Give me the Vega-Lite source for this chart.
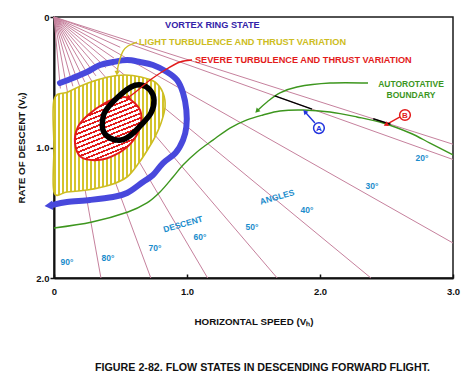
{
"$schema": "https://vega.github.io/schema/vega-lite/v6.json",
"width": 399, "height": 261,
"autosize": {"type": "none"},
"padding": {"left": 54, "top": 17, "right": 20, "bottom": 110},
"background": "white",
"config": {"font": "Liberation Sans", "view": {"stroke": "#1a1a1a", "strokeWidth": 1.5}},
"title": {"text": "FIGURE 2-82. FLOW STATES IN DESCENDING FORWARD FLIGHT.", "orient": "bottom", "frame": "group", "anchor": "middle", "offset": 37, "baseline": "top", "fontSize": 10.7, "fontWeight": "bold", "color": "#111", "dx": 9},
"datasets": {
"rays": [
{"x":0,"y":0,"x2":3,"y2":0.975},{"x":0,"y":0,"x2":3,"y2":1.092},{"x":0,"y":0,"x2":3,"y2":1.732},
{"x":0,"y":0,"x2":2.383,"y2":2},{"x":0,"y":0,"x2":1.678,"y2":2},{"x":0,"y":0,"x2":1.155,"y2":2},
{"x":0,"y":0,"x2":0.728,"y2":2},{"x":0,"y":0,"x2":0.353,"y2":2},
{"x":0,"y":0,"x2":0.498,"y2":0.232},{"x":0,"y":0,"x2":0.451,"y2":0.315},{"x":0,"y":0,"x2":0.389,"y2":0.389},
{"x":0,"y":0,"x2":0.315,"y2":0.451},{"x":0,"y":0,"x2":0.232,"y2":0.498},{"x":0,"y":0,"x2":0.142,"y2":0.531},
{"x":0,"y":0,"x2":0.048,"y2":0.548}],
"green": [
{"i":0,"x":0,"y":1.617},{"i":1,"x":0.286,"y":1.571},{"i":2,"x":0.556,"y":1.494},{"i":3,"x":0.699,"y":1.425},
{"i":4,"x":0.797,"y":1.341},{"i":5,"x":0.895,"y":1.226},{"i":6,"x":0.970,"y":1.134},{"i":7,"x":1.075,"y":1.034},
{"i":8,"x":1.195,"y":0.943},{"i":9,"x":1.323,"y":0.851},{"i":10,"x":1.451,"y":0.789},{"i":11,"x":1.571,"y":0.751},
{"i":12,"x":1.699,"y":0.720},{"i":13,"x":1.872,"y":0.713},{"i":14,"x":2.075,"y":0.728},{"i":15,"x":2.278,"y":0.766},
{"i":16,"x":2.474,"y":0.812},{"i":17,"x":2.677,"y":0.889},{"i":18,"x":2.827,"y":0.966},{"i":19,"x":3.0,"y":1.057}],
"light": [
{"i":0,"x":0,"y":0.636},{"i":1,"x":0.105,"y":0.575},{"i":2,"x":0.256,"y":0.506},{"i":3,"x":0.406,"y":0.460},
{"i":4,"x":0.534,"y":0.444},{"i":5,"x":0.654,"y":0.460},{"i":6,"x":0.759,"y":0.498},{"i":7,"x":0.820,"y":0.582},
{"i":8,"x":0.835,"y":0.690},{"i":9,"x":0.805,"y":0.812},{"i":10,"x":0.759,"y":0.920},{"i":11,"x":0.705,"y":1.015},
{"i":12,"x":0.640,"y":1.115},{"i":13,"x":0.549,"y":1.226},{"i":14,"x":0.421,"y":1.287},{"i":15,"x":0.248,"y":1.326},
{"i":16,"x":0.098,"y":1.341},{"i":17,"x":0,"y":1.341},{"i":18,"x":0,"y":1.0}],
"severe": [
{"i":0,"x":0.556,"y":0.621},{"i":1,"x":0.647,"y":0.713},{"i":2,"x":0.647,"y":0.843},{"i":3,"x":0.579,"y":0.966},
{"i":4,"x":0.459,"y":1.057},{"i":5,"x":0.331,"y":1.096},{"i":6,"x":0.203,"y":1.073},{"i":7,"x":0.158,"y":0.966},
{"i":8,"x":0.180,"y":0.843},{"i":9,"x":0.256,"y":0.751},{"i":10,"x":0.383,"y":0.659},{"i":11,"x":0.481,"y":0.621}],
"stadium": [
{"i":0,"x":0.391,"y":0.713},{"i":1,"x":0.481,"y":0.613},{"i":2,"x":0.579,"y":0.536},{"i":3,"x":0.654,"y":0.521},
{"i":4,"x":0.722,"y":0.559},{"i":5,"x":0.752,"y":0.636},{"i":6,"x":0.729,"y":0.736},{"i":7,"x":0.654,"y":0.828},
{"i":8,"x":0.579,"y":0.904},{"i":9,"x":0.504,"y":0.943},{"i":10,"x":0.421,"y":0.927},{"i":11,"x":0.368,"y":0.866},
{"i":12,"x":0.368,"y":0.774}],
"ring": [
{"i":0,"x":0.045,"y":0.506},{"i":1,"x":0.143,"y":0.467},{"i":2,"x":0.248,"y":0.421},{"i":3,"x":0.346,"y":0.368},
{"i":4,"x":0.444,"y":0.345},{"i":5,"x":0.549,"y":0.330},{"i":6,"x":0.647,"y":0.345},{"i":7,"x":0.744,"y":0.368},
{"i":8,"x":0.850,"y":0.421},{"i":9,"x":0.925,"y":0.483},{"i":10,"x":0.970,"y":0.582},{"i":11,"x":0.995,"y":0.713},
{"i":12,"x":0.995,"y":0.843},{"i":13,"x":0.970,"y":0.943},{"i":14,"x":0.915,"y":1.040},{"i":15,"x":0.820,"y":1.119},
{"i":16,"x":0.744,"y":1.211},{"i":17,"x":0.669,"y":1.264},{"i":18,"x":0.549,"y":1.349},{"i":19,"x":0.444,"y":1.379},
{"i":20,"x":0.271,"y":1.402},{"i":21,"x":0.098,"y":1.418},{"i":22,"x":0.0,"y":1.438}],
"ringhead": [{"x":-0.03,"y":1.445,"dir":265}],
"leaders": [
{"g":"light","s":"l","i":0,"x":0.624,"y":0.192},{"g":"light","s":"l","i":1,"x":0.556,"y":0.222},{"g":"light","s":"l","i":2,"x":0.519,"y":0.261},
{"g":"light","s":"l","i":3,"x":0.496,"y":0.322},{"g":"light","s":"l","i":4,"x":0.481,"y":0.383},{"g":"light","s":"l","i":5,"x":0.474,"y":0.421},
{"g":"severe","s":"r","i":0,"x":1.038,"y":0.329},{"g":"severe","s":"r","i":1,"x":0.947,"y":0.345},{"g":"severe","s":"r","i":2,"x":0.835,"y":0.406},
{"g":"severe","s":"r","i":3,"x":0.722,"y":0.483},{"g":"severe","s":"r","i":4,"x":0.632,"y":0.559},{"g":"severe","s":"r","i":5,"x":0.564,"y":0.613},
{"g":"auto","s":"g","i":0,"x":2.361,"y":0.506},{"g":"auto","s":"g","i":1,"x":2.075,"y":0.506},{"g":"auto","s":"g","i":2,"x":1.827,"y":0.536},
{"g":"auto","s":"g","i":3,"x":1.699,"y":0.582},{"g":"auto","s":"g","i":4,"x":1.602,"y":0.651},{"g":"auto","s":"g","i":5,"x":1.534,"y":0.713},
{"g":"A","s":"a","i":0,"x":1.962,"y":0.812},{"g":"A","s":"a","i":1,"x":1.895,"y":0.736},
{"g":"B","s":"b","i":0,"x":2.602,"y":0.766},{"g":"B","s":"b","i":1,"x":2.504,"y":0.820},
{"g":"tangent","s":"t1","i":0,"x":1.66,"y":0.604},{"g":"tangent","s":"t1","i":1,"x":1.94,"y":0.706},
{"g":"tangent","s":"t2","i":0,"x":2.40,"y":0.78},{"g":"tangent","s":"t2","i":1,"x":2.53,"y":0.822}],
"heads": [
{"g":"light","x":0.474,"y":0.425,"dir":185},{"g":"severe","x":0.56,"y":0.617,"dir":235},
{"g":"auto","x":1.53,"y":0.717,"dir":225},{"g":"A","x":1.89,"y":0.73,"dir":318},{"g":"B","x":2.50,"y":0.822,"dir":242}],
"circles": [{"g":"A","t":"A","x":1.992,"y":0.851},{"g":"B","t":"B","x":2.639,"y":0.751}],
"leftlabels": [
{"t":"VORTEX RING STATE","g":"vortexlabel","x":0.835,"y":0.061},
{"t":"LIGHT TURBULENCE AND THRUST VARIATION","g":"light","x":0.639,"y":0.192},
{"t":"SEVERE TURBULENCE AND THRUST VARIATION","g":"severe","x":1.060,"y":0.330}],
"midlabels": [
{"t":"AUTOROTATIVE","g":"auto","x":2.684,"y":0.513},{"t":"BOUNDARY","g":"auto","x":2.684,"y":0.598},
{"t":"90°","g":"angle","x":0.098,"y":1.877},{"t":"80°","g":"angle","x":0.406,"y":1.847},
{"t":"70°","g":"angle","x":0.759,"y":1.770},{"t":"60°","g":"angle","x":1.098,"y":1.686},
{"t":"50°","g":"angle","x":1.489,"y":1.609},{"t":"40°","g":"angle","x":1.902,"y":1.479},
{"t":"30°","g":"angle","x":2.391,"y":1.295},{"t":"20°","g":"angle","x":2.767,"y":1.080}],
"rotlabels": [{"t":"DESCENT","g":"angle","x":0.970,"y":1.586},{"t":"ANGLES","g":"angle","x":1.677,"y":1.379}]
},
"encoding": {
"x": {"field": "x", "type": "quantitative", "scale": {"domain": [0, 3], "nice": false, "zero": false},
 "axis": {"values": [0, 1, 2, 3], "labelExpr": "datum.value == 0 ? '0' : format(datum.value, '.1f')", "title": "HORIZONTAL SPEED (Vₕ)", "grid": false, "tickSize": -4, "tickColor": "#111", "tickWidth": 1.5, "domainColor": "#111", "domainWidth": 2, "labelFontWeight": "bold", "labelFontSize": 9.5, "labelColor": "#111", "labelPadding": 12, "labelFlush": false, "titleFontSize": 9.8, "titleFontWeight": "bold", "titlePadding": 21, "titleColor": "#111"}},
"y": {"field": "y", "type": "quantitative", "scale": {"domain": [0, 2], "nice": false, "zero": false, "reverse": true},
 "axis": {"values": [0, 1, 2], "labelExpr": "datum.value == 0 ? '0' : format(datum.value, '.1f')", "title": "RATE OF DESCENT (Vᵥ)", "grid": false, "tickSize": 4, "tickColor": "#111", "tickWidth": 1.5, "domainColor": "#111", "domainWidth": 2, "labelFontWeight": "bold", "labelFontSize": 9.5, "labelColor": "#111", "labelPadding": 1, "labelFlush": false, "titleFontSize": 9.8, "titleFontWeight": "bold", "titlePadding": 9, "titleColor": "#111"}}
},
"layer": [
{"data": {"name": "rays"}, "mark": {"type": "rule", "color": "#c6819d", "strokeWidth": 1}, "encoding": {"x2": {"field": "x2"}, "y2": {"field": "y2"}}},
{"data": {"name": "green"}, "mark": {"type": "line", "color": "#3d961e", "strokeWidth": 1.4, "interpolate": "cardinal"}, "encoding": {"order": {"field": "i", "type": "quantitative"}}},
{"data": {"name": "light"}, "mark": {"type": "line", "interpolate": "cardinal-closed", "stroke": "#cdbd22", "strokeWidth": 1.6,
 "fill": {"gradient": "linear", "x1": 0, "y1": 0, "x2": 1, "y2": 0, "stops": [
 {"offset":0,"color":"#ffffff"},
 {"offset":0.0119,"color":"#ffffff"},{"offset":0.0119,"color":"#d4c42c"},{"offset":0.0239,"color":"#d4c42c"},{"offset":0.0239,"color":"#ffffff"},
 {"offset":0.0476,"color":"#ffffff"},{"offset":0.0476,"color":"#d4c42c"},{"offset":0.0596,"color":"#d4c42c"},{"offset":0.0596,"color":"#ffffff"},
 {"offset":0.0833,"color":"#ffffff"},{"offset":0.0833,"color":"#d4c42c"},{"offset":0.0953,"color":"#d4c42c"},{"offset":0.0953,"color":"#ffffff"},
 {"offset":0.1190,"color":"#ffffff"},{"offset":0.1190,"color":"#d4c42c"},{"offset":0.1310,"color":"#d4c42c"},{"offset":0.1310,"color":"#ffffff"},
 {"offset":0.1547,"color":"#ffffff"},{"offset":0.1547,"color":"#d4c42c"},{"offset":0.1667,"color":"#d4c42c"},{"offset":0.1667,"color":"#ffffff"},
 {"offset":0.1904,"color":"#ffffff"},{"offset":0.1904,"color":"#d4c42c"},{"offset":0.2024,"color":"#d4c42c"},{"offset":0.2024,"color":"#ffffff"},
 {"offset":0.2262,"color":"#ffffff"},{"offset":0.2262,"color":"#d4c42c"},{"offset":0.2382,"color":"#d4c42c"},{"offset":0.2382,"color":"#ffffff"},
 {"offset":0.2619,"color":"#ffffff"},{"offset":0.2619,"color":"#d4c42c"},{"offset":0.2739,"color":"#d4c42c"},{"offset":0.2739,"color":"#ffffff"},
 {"offset":0.2976,"color":"#ffffff"},{"offset":0.2976,"color":"#d4c42c"},{"offset":0.3096,"color":"#d4c42c"},{"offset":0.3096,"color":"#ffffff"},
 {"offset":0.3333,"color":"#ffffff"},{"offset":0.3333,"color":"#d4c42c"},{"offset":0.3453,"color":"#d4c42c"},{"offset":0.3453,"color":"#ffffff"},
 {"offset":0.3690,"color":"#ffffff"},{"offset":0.3690,"color":"#d4c42c"},{"offset":0.3810,"color":"#d4c42c"},{"offset":0.3810,"color":"#ffffff"},
 {"offset":0.4047,"color":"#ffffff"},{"offset":0.4047,"color":"#d4c42c"},{"offset":0.4167,"color":"#d4c42c"},{"offset":0.4167,"color":"#ffffff"},
 {"offset":0.4404,"color":"#ffffff"},{"offset":0.4404,"color":"#d4c42c"},{"offset":0.4524,"color":"#d4c42c"},{"offset":0.4524,"color":"#ffffff"},
 {"offset":0.4761,"color":"#ffffff"},{"offset":0.4761,"color":"#d4c42c"},{"offset":0.4881,"color":"#d4c42c"},{"offset":0.4881,"color":"#ffffff"},
 {"offset":0.5119,"color":"#ffffff"},{"offset":0.5119,"color":"#d4c42c"},{"offset":0.5239,"color":"#d4c42c"},{"offset":0.5239,"color":"#ffffff"},
 {"offset":0.5476,"color":"#ffffff"},{"offset":0.5476,"color":"#d4c42c"},{"offset":0.5596,"color":"#d4c42c"},{"offset":0.5596,"color":"#ffffff"},
 {"offset":0.5833,"color":"#ffffff"},{"offset":0.5833,"color":"#d4c42c"},{"offset":0.5953,"color":"#d4c42c"},{"offset":0.5953,"color":"#ffffff"},
 {"offset":0.6190,"color":"#ffffff"},{"offset":0.6190,"color":"#d4c42c"},{"offset":0.6310,"color":"#d4c42c"},{"offset":0.6310,"color":"#ffffff"},
 {"offset":0.6547,"color":"#ffffff"},{"offset":0.6547,"color":"#d4c42c"},{"offset":0.6667,"color":"#d4c42c"},{"offset":0.6667,"color":"#ffffff"},
 {"offset":0.6904,"color":"#ffffff"},{"offset":0.6904,"color":"#d4c42c"},{"offset":0.7024,"color":"#d4c42c"},{"offset":0.7024,"color":"#ffffff"},
 {"offset":0.7261,"color":"#ffffff"},{"offset":0.7261,"color":"#d4c42c"},{"offset":0.7381,"color":"#d4c42c"},{"offset":0.7381,"color":"#ffffff"},
 {"offset":0.7619,"color":"#ffffff"},{"offset":0.7619,"color":"#d4c42c"},{"offset":0.7739,"color":"#d4c42c"},{"offset":0.7739,"color":"#ffffff"},
 {"offset":0.7976,"color":"#ffffff"},{"offset":0.7976,"color":"#d4c42c"},{"offset":0.8096,"color":"#d4c42c"},{"offset":0.8096,"color":"#ffffff"},
 {"offset":0.8333,"color":"#ffffff"},{"offset":0.8333,"color":"#d4c42c"},{"offset":0.8453,"color":"#d4c42c"},{"offset":0.8453,"color":"#ffffff"},
 {"offset":0.8690,"color":"#ffffff"},{"offset":0.8690,"color":"#d4c42c"},{"offset":0.8810,"color":"#d4c42c"},{"offset":0.8810,"color":"#ffffff"},
 {"offset":0.9047,"color":"#ffffff"},{"offset":0.9047,"color":"#d4c42c"},{"offset":0.9167,"color":"#d4c42c"},{"offset":0.9167,"color":"#ffffff"},
 {"offset":0.9404,"color":"#ffffff"},{"offset":0.9404,"color":"#d4c42c"},{"offset":0.9524,"color":"#d4c42c"},{"offset":0.9524,"color":"#ffffff"},
 {"offset":0.9761,"color":"#ffffff"},{"offset":0.9761,"color":"#d4c42c"},{"offset":0.9881,"color":"#d4c42c"},{"offset":0.9881,"color":"#ffffff"},
 {"offset":1,"color":"#ffffff"}]}},
 "encoding": {"order": {"field": "i", "type": "quantitative"}}},
{"data": {"name": "severe"}, "mark": {"type": "line", "interpolate": "cardinal-closed", "stroke": "#e31b1b", "strokeWidth": 2,
 "fill": {"gradient": "linear", "x1": 0.29, "y1": 0, "x2": 0.71, "y2": 1, "stops": [
 {"offset":0,"color":"#ffffff"},
 {"offset":0.0188,"color":"#ffffff"},{"offset":0.0188,"color":"#e31b1b"},{"offset":0.0438,"color":"#e31b1b"},{"offset":0.0438,"color":"#ffffff"},
 {"offset":0.0813,"color":"#ffffff"},{"offset":0.0813,"color":"#e31b1b"},{"offset":0.1063,"color":"#e31b1b"},{"offset":0.1063,"color":"#ffffff"},
 {"offset":0.1438,"color":"#ffffff"},{"offset":0.1438,"color":"#e31b1b"},{"offset":0.1688,"color":"#e31b1b"},{"offset":0.1688,"color":"#ffffff"},
 {"offset":0.2063,"color":"#ffffff"},{"offset":0.2063,"color":"#e31b1b"},{"offset":0.2313,"color":"#e31b1b"},{"offset":0.2313,"color":"#ffffff"},
 {"offset":0.2688,"color":"#ffffff"},{"offset":0.2688,"color":"#e31b1b"},{"offset":0.2938,"color":"#e31b1b"},{"offset":0.2938,"color":"#ffffff"},
 {"offset":0.3313,"color":"#ffffff"},{"offset":0.3313,"color":"#e31b1b"},{"offset":0.3563,"color":"#e31b1b"},{"offset":0.3563,"color":"#ffffff"},
 {"offset":0.3938,"color":"#ffffff"},{"offset":0.3938,"color":"#e31b1b"},{"offset":0.4188,"color":"#e31b1b"},{"offset":0.4188,"color":"#ffffff"},
 {"offset":0.4563,"color":"#ffffff"},{"offset":0.4563,"color":"#e31b1b"},{"offset":0.4813,"color":"#e31b1b"},{"offset":0.4813,"color":"#ffffff"},
 {"offset":0.5188,"color":"#ffffff"},{"offset":0.5188,"color":"#e31b1b"},{"offset":0.5438,"color":"#e31b1b"},{"offset":0.5438,"color":"#ffffff"},
 {"offset":0.5813,"color":"#ffffff"},{"offset":0.5813,"color":"#e31b1b"},{"offset":0.6063,"color":"#e31b1b"},{"offset":0.6063,"color":"#ffffff"},
 {"offset":0.6438,"color":"#ffffff"},{"offset":0.6438,"color":"#e31b1b"},{"offset":0.6688,"color":"#e31b1b"},{"offset":0.6688,"color":"#ffffff"},
 {"offset":0.7063,"color":"#ffffff"},{"offset":0.7063,"color":"#e31b1b"},{"offset":0.7313,"color":"#e31b1b"},{"offset":0.7313,"color":"#ffffff"},
 {"offset":0.7688,"color":"#ffffff"},{"offset":0.7688,"color":"#e31b1b"},{"offset":0.7938,"color":"#e31b1b"},{"offset":0.7938,"color":"#ffffff"},
 {"offset":0.8313,"color":"#ffffff"},{"offset":0.8313,"color":"#e31b1b"},{"offset":0.8563,"color":"#e31b1b"},{"offset":0.8563,"color":"#ffffff"},
 {"offset":0.8938,"color":"#ffffff"},{"offset":0.8938,"color":"#e31b1b"},{"offset":0.9188,"color":"#e31b1b"},{"offset":0.9188,"color":"#ffffff"},
 {"offset":0.9563,"color":"#ffffff"},{"offset":0.9563,"color":"#e31b1b"},{"offset":0.9813,"color":"#e31b1b"},{"offset":0.9813,"color":"#ffffff"},
 {"offset":1,"color":"#ffffff"}]}},
 "encoding": {"order": {"field": "i", "type": "quantitative"}}},
{"data": {"name": "stadium"}, "mark": {"type": "line", "interpolate": "cardinal-closed", "stroke": "#000000", "strokeWidth": 5.5}, "encoding": {"order": {"field": "i", "type": "quantitative"}}},
{"data": {"name": "ring"}, "mark": {"type": "line", "interpolate": "cardinal", "stroke": "#4848dc", "strokeWidth": 6, "strokeCap": "round", "strokeJoin": "round"}, "encoding": {"order": {"field": "i", "type": "quantitative"}}},
{"data": {"name": "ringhead"}, "mark": {"type": "point", "shape": "triangle", "filled": true, "size": 90, "color": "#4848dc", "opacity": 1}, "encoding": {"angle": {"field": "dir", "type": "quantitative", "scale": null}}},
{"data": {"name": "leaders"}, "mark": {"type": "line", "interpolate": "cardinal", "strokeWidth": 1.4}, "encoding": {"order": {"field": "i", "type": "quantitative"}, "detail": {"field": "s"},
 "color": {"field": "g", "type": "nominal", "legend": null, "scale": {"domain": ["vortex","vortexlabel","light","severe","auto","A","B","tangent","angle"], "range": ["#4848dc","#3323a8","#cdbd22","#e31b1b","#3d961e","#2233dd","#e31b1b","#000000","#1a8ccc"]}}}},
{"data": {"name": "heads"}, "mark": {"type": "point", "shape": "triangle", "filled": true, "size": 28, "opacity": 1}, "encoding": {"angle": {"field": "dir", "type": "quantitative", "scale": null},
 "color": {"field": "g", "type": "nominal", "legend": null, "scale": {"domain": ["vortex","vortexlabel","light","severe","auto","A","B","tangent","angle"], "range": ["#4848dc","#3323a8","#cdbd22","#e31b1b","#3d961e","#2233dd","#e31b1b","#000000","#1a8ccc"]}}}},
{"data": {"name": "circles"}, "mark": {"type": "point", "shape": "circle", "filled": false, "size": 115, "strokeWidth": 1.5, "opacity": 1}, "encoding": {
 "color": {"field": "g", "type": "nominal", "legend": null, "scale": {"domain": ["vortex","vortexlabel","light","severe","auto","A","B","tangent","angle"], "range": ["#4848dc","#3323a8","#cdbd22","#e31b1b","#3d961e","#2233dd","#e31b1b","#000000","#1a8ccc"]}}}},
{"data": {"name": "circles"}, "mark": {"type": "text", "fontSize": 8, "fontWeight": "bold", "align": "center", "baseline": "middle", "dy": 0.5}, "encoding": {"text": {"field": "t"},
 "color": {"field": "g", "type": "nominal", "legend": null, "scale": {"domain": ["vortex","vortexlabel","light","severe","auto","A","B","tangent","angle"], "range": ["#4848dc","#3323a8","#cdbd22","#e31b1b","#3d961e","#2233dd","#e31b1b","#000000","#1a8ccc"]}}}},
{"data": {"name": "leftlabels"}, "mark": {"type": "text", "fontSize": 9.2, "fontWeight": "bold", "align": "left", "baseline": "middle"}, "encoding": {"text": {"field": "t"},
 "color": {"field": "g", "type": "nominal", "legend": null, "scale": {"domain": ["vortex","vortexlabel","light","severe","auto","A","B","tangent","angle"], "range": ["#4848dc","#3323a8","#cdbd22","#e31b1b","#3d961e","#2233dd","#e31b1b","#000000","#1a8ccc"]}}}},
{"data": {"name": "midlabels"}, "mark": {"type": "text", "fontSize": 8.5, "fontWeight": "bold", "align": "center", "baseline": "middle"}, "encoding": {"text": {"field": "t"},
 "color": {"field": "g", "type": "nominal", "legend": null, "scale": {"domain": ["vortex","vortexlabel","light","severe","auto","A","B","tangent","angle"], "range": ["#4848dc","#3323a8","#cdbd22","#e31b1b","#3d961e","#2233dd","#e31b1b","#000000","#1a8ccc"]}}}},
{"data": {"name": "rotlabels"}, "mark": {"type": "text", "fontSize": 8.5, "fontWeight": "bold", "align": "center", "baseline": "middle", "angle": 344}, "encoding": {"text": {"field": "t"},
 "color": {"field": "g", "type": "nominal", "legend": null, "scale": {"domain": ["vortex","vortexlabel","light","severe","auto","A","B","tangent","angle"], "range": ["#4848dc","#3323a8","#cdbd22","#e31b1b","#3d961e","#2233dd","#e31b1b","#000000","#1a8ccc"]}}}}
]
}
